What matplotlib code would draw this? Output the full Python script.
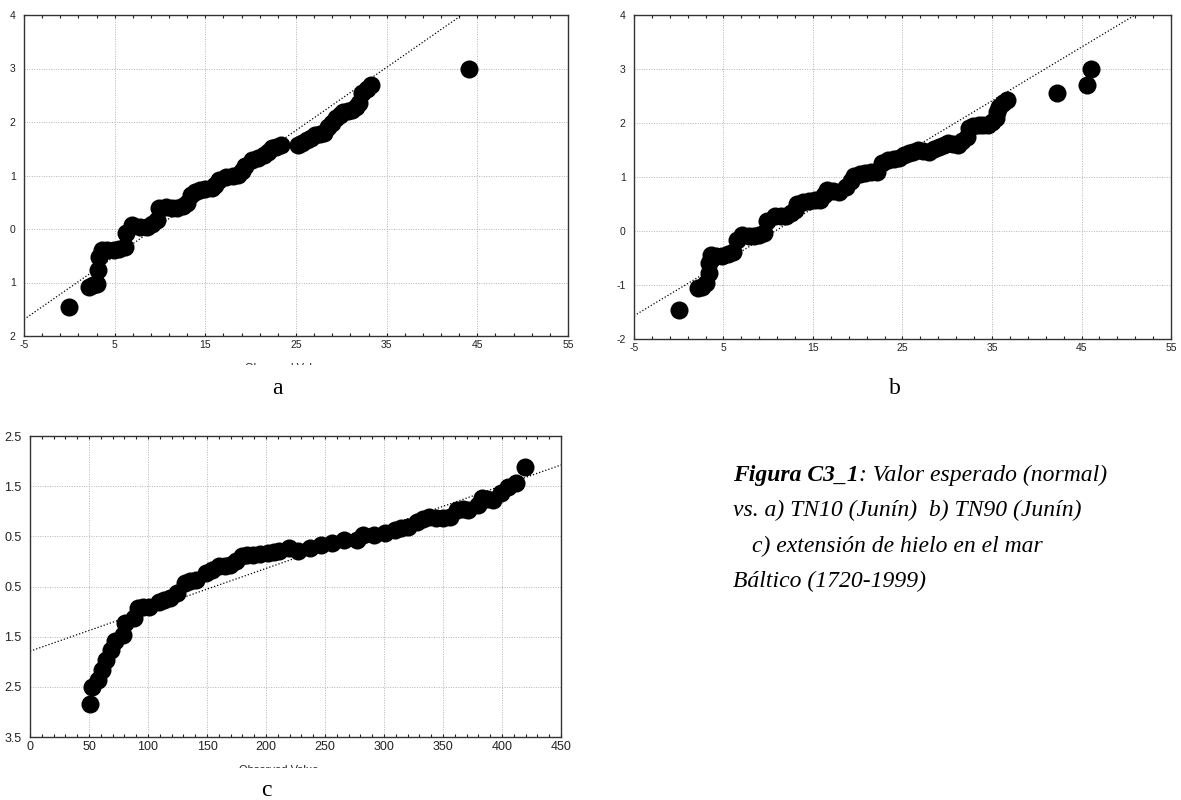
import numpy as np
import matplotlib
matplotlib.use("Agg")
import matplotlib.pyplot as plt
from matplotlib.transforms import Bbox

plt.rcParams["axes.unicode_minus"] = False

# ---- panel a: TN10 (Junin) -- observed value vs expected normal value
a_obs = [0.0, 2.2, 2.6, 3.0, 3.2, 3.3, 3.55, 4.2, 4.9, 5.5, 6.1, 6.3, 6.95,
         7.8, 8.6, 9.1, 9.65, 9.85, 10.7, 11.3, 11.9, 12.5, 13.0, 13.4, 13.9,
         14.4, 15.0, 15.7, 16.1, 16.5, 17.3, 18.0, 18.6, 19.0, 19.4, 20.2,
         20.8, 21.5, 21.9, 22.3, 22.8, 23.3, 25.2, 25.7, 26.2, 26.6, 27.1,
         27.6, 28.1, 28.5, 29.0, 29.4, 29.8, 30.2, 30.7, 31.2, 31.6, 32.0,
         32.3, 32.8, 33.3, 44.1]
a_exp = [-1.46, -1.08, -1.05, -1.02, -0.77, -0.52, -0.39, -0.40, -0.39, -0.37,
         -0.33, -0.08, 0.07, 0.03, 0.04, 0.10, 0.17, 0.39, 0.42, 0.40, 0.39,
         0.43, 0.48, 0.64, 0.69, 0.73, 0.74, 0.76, 0.83, 0.92, 0.98, 0.99,
         1.01, 1.08, 1.17, 1.29, 1.33, 1.38, 1.44, 1.51, 1.54, 1.57, 1.57,
         1.61, 1.66, 1.71, 1.76, 1.78, 1.79, 1.91, 1.99, 2.07, 2.13, 2.19,
         2.21, 2.22, 2.28, 2.35, 2.54, 2.62, 2.69, 3.00]
a_fit = (-5.0, -1.69, 0.1178)   # x0, y0, slope of the reference line

# ---- panel b: TN90 (Junin)
b_obs = [0.06, 2.1, 2.6, 3.1, 3.35, 3.35, 3.56, 4.2, 4.8, 5.5, 6.1, 6.5, 7.1,
         7.8, 8.4, 9.0, 9.5, 9.9, 10.7, 11.4, 12.0, 12.5, 13.0, 13.25, 13.9,
         14.5, 15.2, 15.8, 16.2, 16.6, 17.2, 17.9, 18.7, 19.2, 19.6, 20.2,
         20.8, 21.5, 22.1, 22.7, 23.4, 24.0, 24.6, 25.2, 25.7, 26.2, 26.7,
         27.3, 28.0, 28.5, 29.1, 29.6, 30.1, 30.6, 31.2, 31.7, 32.2, 32.4,
         32.9, 33.5, 34.0, 34.5, 35.0, 35.4, 35.6, 35.8, 36.2, 36.65, 42.3,
         45.6, 46.05]
b_exp = [-1.47, -1.06, -1.03, -0.96, -0.78, -0.59, -0.44, -0.46, -0.47, -0.43,
         -0.38, -0.16, -0.07, -0.09, -0.10, -0.08, -0.04, 0.18, 0.27, 0.28,
         0.27, 0.33, 0.39, 0.50, 0.53, 0.55, 0.57, 0.58, 0.66, 0.76, 0.74,
         0.73, 0.82, 0.92, 1.01, 1.05, 1.07, 1.09, 1.10, 1.26, 1.32, 1.33,
         1.35, 1.40, 1.44, 1.47, 1.50, 1.49, 1.47, 1.51, 1.56, 1.60, 1.63,
         1.62, 1.60, 1.67, 1.75, 1.90, 1.94, 1.97, 1.97, 1.97, 2.02, 2.09,
         2.20, 2.30, 2.37, 2.43, 2.55, 2.71, 3.00]
b_fit = (-5.0, -1.57, 0.0995)

# ---- panel c: Baltic sea ice extent (1720-1999)
c_obs = [51.2, 52.2, 57.7, 60.9, 64.1, 68.9, 72.1, 78.5, 80.1, 88.1, 91.3,
         96.0, 100.9, 108.9, 113.7, 118.5, 124.9, 131.3, 136.0, 140.9, 148.9,
         154.5, 160.1, 165.0, 169.7, 174.5, 179.3, 184.0, 188.9, 195.0, 201.8,
         206.5, 211.4, 219.4, 227.4, 237.0, 246.6, 256.2, 265.9, 277.1, 281.9,
         291.5, 301.1, 309.1, 314.5, 320.3, 328.3, 333.0, 337.9, 344.4, 350.0,
         355.6, 362.0, 366.8, 371.6, 379.6, 382.8, 387.5, 392.4, 398.8, 405.2,
         411.6, 419.6]
c_exp = [-2.84, -2.51, -2.36, -2.16, -1.96, -1.76, -1.59, -1.46, -1.23, -1.13,
         -0.93, -0.91, -0.90, -0.80, -0.77, -0.73, -0.63, -0.43, -0.40, -0.37,
         -0.23, -0.17, -0.10, -0.09, -0.07, 0.00, 0.10, 0.12, 0.13, 0.14, 0.16,
         0.18, 0.20, 0.26, 0.20, 0.26, 0.33, 0.36, 0.43, 0.43, 0.53, 0.53,
         0.56, 0.63, 0.66, 0.69, 0.79, 0.84, 0.89, 0.86, 0.87, 0.89, 1.03,
         1.04, 1.03, 1.13, 1.26, 1.25, 1.23, 1.36, 1.49, 1.56, 1.89]
c_fit = (0.0, -1.79, 0.00825)

# tick labels as printed (minus signs lost in panels a and c)
ab_yticks = [-2, -1, 0, 1, 2, 3, 4]
a_ylabels = ["2", "1", "0", "1", "2", "3", "4"]
b_ylabels = ["-2", "-1", "0", "1", "2", "3", "4"]
c_yticks = [-3.5, -2.5, -1.5, -0.5, 0.5, 1.5, 2.5]
c_ylabels = ["3.5", "2.5", "1.5", "0.5", "0.5", "1.5", "2.5"]

W, H = 1181, 800
fig = plt.figure(figsize=(W / 100, H / 100), dpi=100)
SANS = ["Liberation Sans", "DejaVu Sans"]
SERIF = ["Liberation Serif", "DejaVu Serif"]


def px_axes(left, top, right, bottom):
    return fig.add_axes([left / W, 1 - bottom / H, (right - left) / W, (bottom - top) / H])


def qq_panel(ax, obs, exp, fit, xlim, xmajor, xminor, ylim, yticks, ylabels, fs):
    ax.set_xlim(*xlim)
    ax.set_ylim(*ylim)
    ax.set_xticks(np.arange(xlim[0], xlim[1] + 0.01, xmajor))
    ax.set_xticks(np.arange(xlim[0], xlim[1] + 0.01, xminor), minor=True)
    ax.set_yticks(yticks)
    ax.set_yticklabels(ylabels)
    for lab in ax.get_xticklabels() + ax.get_yticklabels():
        lab.set_family(SANS)
    ax.grid(True, which="major", linestyle=(0, (1, 1.5)), color="#b4b4b4", linewidth=0.7)
    ax.tick_params(axis="x", which="both", direction="in", top=True, length=2.5,
                   width=0.8, labelsize=fs, pad=3, colors="#222222")
    ax.tick_params(axis="y", which="both", length=0, labelsize=fs, pad=6, colors="#222222")
    for s in ax.spines.values():
        s.set_linewidth(1.0)
        s.set_color("#333333")
    ax.axline((fit[0], fit[1]), slope=fit[2], color="black", linestyle=(0, (1, 1.6)),
              linewidth=0.9, zorder=2)
    ax.plot(obs, exp, "o", color="black", markersize=13, markeredgewidth=0,
            zorder=3, clip_on=False)


ax_a = px_axes(24, 15, 568, 336)
qq_panel(ax_a, a_obs, a_exp, a_fit, (-5, 55), 10, 2, (-2, 4), ab_yticks, a_ylabels, 7.5)

ax_b = px_axes(634, 15, 1171, 339)
qq_panel(ax_b, b_obs, b_exp, b_fit, (-5, 55), 10, 2, (-2, 4), ab_yticks, b_ylabels, 7.5)

ax_c = px_axes(30, 436, 561, 737)
qq_panel(ax_c, c_obs, c_exp, c_fit, (0, 450), 50, 10, (-3.5, 2.5), c_yticks, c_ylabels, 9)

# x-axis titles cut off by the page crop: only the tops remain
for cx, top, cut in [(285, 363, 364.5), (279, 765, 768)]:
    t = fig.text(cx / W, 1 - top / H, "Observed Value", ha="center", va="top",
                 fontsize=8, family=SANS, color="#222222")
    t.set_clip_on(True)
    t.set_clip_box(Bbox.from_extents(0, H - cut, W, H))

# panel letters
for lx, ly, letter in [(277, 388, "a"), (895, 388, "b"), (266, 790, "c")]:
    fig.text(lx / W, 1 - ly / H, letter, ha="center", va="center",
             fontsize=17, family=SERIF)

# caption
cap_fs = 17
x0 = 733 / W
t1 = fig.text(x0, 1 - 475 / H, "Figura C3_1", fontsize=cap_fs, family=SERIF,
              style="italic", weight="bold", va="center", ha="left")
plt.annotate(": Valor esperado (normal)", xy=(1, 0), xycoords=t1,
             fontsize=cap_fs, family=SERIF, style="italic",
             va="bottom", ha="left", annotation_clip=False)
fig.text(x0, 1 - 510 / H, "vs. a) TN10 (Junín)  b) TN90 (Junín)", fontsize=cap_fs,
         family=SERIF, style="italic", va="center", ha="left")
fig.text(752 / W, 1 - 546 / H, "c) extensión de hielo en el mar", fontsize=cap_fs,
         family=SERIF, style="italic", va="center", ha="left")
fig.text(x0, 1 - 581 / H, "Báltico (1720-1999)", fontsize=cap_fs,
         family=SERIF, style="italic", va="center", ha="left")

fig.savefig("out.png", dpi=100)
